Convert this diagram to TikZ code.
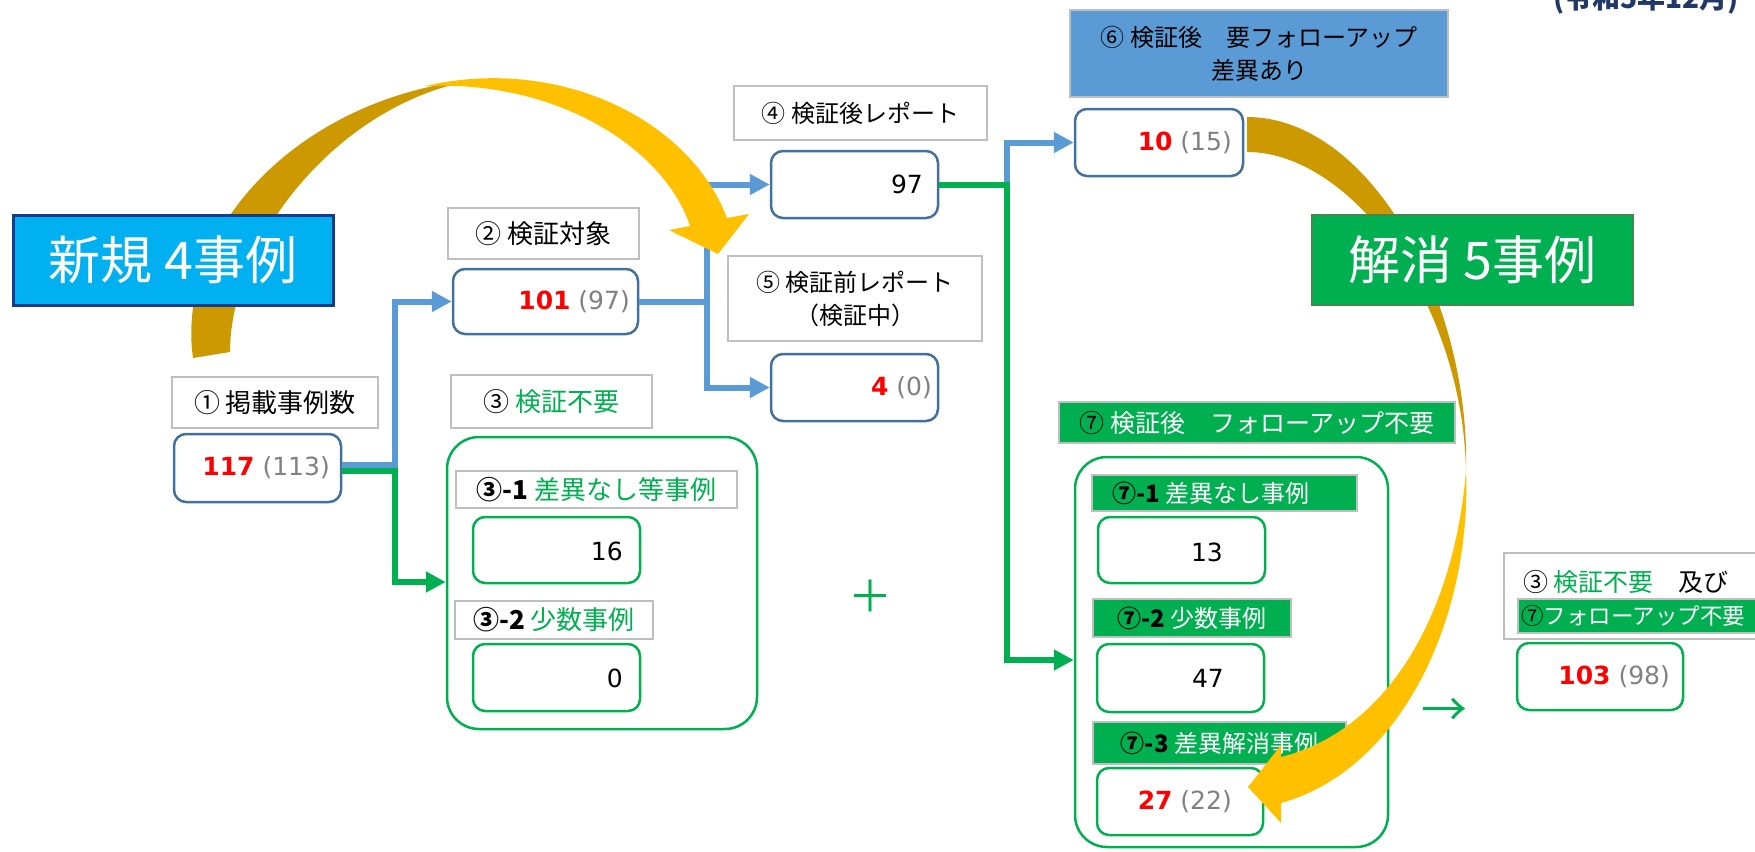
\documentclass[tikz,border=0pt]{standalone}
\usepackage{fontspec}
\setmainfont{Noto Sans CJK JP}
\newfontfamily\numfam{DejaVu Sans}
\usetikzlibrary{arrows.meta}
\definecolor{lnblue}{HTML}{5B9BD5}
\definecolor{lngreen}{HTML}{00B050}
\definecolor{bxblue}{HTML}{41719C}
\definecolor{bxgray}{HTML}{BFBFBF}
\definecolor{numgray}{HTML}{808080}
\definecolor{numred}{HTML}{FF0000}
\definecolor{newcyan}{HTML}{00B0F0}
\definecolor{newnavy}{HTML}{143C8C}
\definecolor{gold}{HTML}{FFC000}
\definecolor{darkgold}{HTML}{CC9900}
\definecolor{solvedge}{HTML}{41894F}
\definecolor{titlenavy}{HTML}{203864}
\definecolor{hdrblue}{HTML}{5B9BD5}
\newcommand\lblfont{\fontsize{24}{33}\selectfont}
\newcommand\lblbigfont{\fontsize{26}{33}\selectfont}
\newcommand\valfont{\numfam\fontsize{25}{30}\selectfont}
\newcommand\bigfont{\fontsize{52}{60}\selectfont}
\newcommand\rnum[2]{{\bfseries\color{numred}#1} {\color{numgray}(#2)}}
\begin{document}
\begin{tikzpicture}[x=1pt,y=-1pt,
 lbl/.style={draw=bxgray,line width=2pt,fill=white,inner sep=0pt,align=center,font=\lblfont},
 lblb/.style={lbl,font=\lblbigfont},
 glbl/.style={lbl,fill=lngreen,text=white},
 val/.style={draw=bxblue,line width=2.5pt,fill=white,rounded corners=12pt,inner sep=0pt},
 gval/.style={val,draw=lngreen},
 cont/.style={draw=lngreen,line width=2.5pt,fill=white,rounded corners=32pt,inner sep=0pt},
 vtxt/.style={anchor=east,inner sep=0pt,font=\valfont},
 bigbox/.style={line width=3pt,inner sep=0pt,text=white,font=\bigfont},
 bline/.style={draw=lnblue,line width=6pt},
 gline/.style={draw=lngreen,line width=6pt},
 headtip/.style={-{Triangle[length=20pt,width=20pt]}},
]
\useasboundingbox (0,0) rectangle (1755,851);
\clip (0,0) rectangle (1755,851);
\fill[white] (0,0) rectangle (1755,851);

% partially visible title (cut by the top edge)
\node[anchor=base west,inner sep=0pt,font=\fontsize{28}{34}\selectfont\bfseries,text=titlenavy] (ttl) at (1553,9) {(令和5年12月)};

% dark (back) parts of the curved arrows
\fill[darkgold] (193,358) .. controls (175,230) and (300,95) .. (480,79)
  .. controls (340,100) and (230,240) .. (230,352) -- cycle;
\fill[darkgold] (1247,117) .. controls (1370,117) and (1470,300) .. (1466,470)
  .. controls (1462,300) and (1350,152) .. (1247,152) -- cycle;

% left part
\node[lblb,minimum width=206pt,minimum height=51pt] (l1) at (275,402.5) {① 掲載事例数};
\node[val,minimum width=167pt,minimum height=68pt] (v1) at (257.5,468) {};
\node[vtxt] (t1) at (330,468) {\rnum{117}{113}};

\node[lblb,minimum width=191pt,minimum height=51pt] (l2) at (543.5,233.5) {② 検証対象};
\node[val,minimum width=185pt,minimum height=65pt] (v2) at (545.5,301.5) {};
\node[vtxt] (t2) at (630,301.5) {\rnum{101}{97}};

\node[lblb,minimum width=201pt,minimum height=53pt] (l3) at (551.5,401.5) {③ {\color{lngreen}検証不要}};
\node[cont,minimum width=310pt,minimum height=292pt] (c3) at (602,583) {};
\node[lblb,minimum width=281pt,minimum height=37pt] (l31) at (596.5,489.5) {{\bfseries ③-1} {\color{lngreen}差異なし等事例}};
\node[gval,minimum width=167pt,minimum height=66pt] (v31) at (556.5,550) {};
\node[vtxt] (t31) at (623,551) {16};
\node[lblb,minimum width=198pt,minimum height=38pt] (l32) at (554,620) {{\bfseries ③-2} {\color{lngreen}少数事例}};
\node[gval,minimum width=167pt,minimum height=67pt] (v32) at (556.5,677.5) {};
\node[vtxt] (t32) at (623,678) {0};

\node[text=lngreen,font=\fontsize{44}{50}\selectfont,inner sep=0pt] (plus) at (870,596) {＋};

% middle part
\node[lbl,minimum width=253pt,minimum height=54pt] (l4) at (860.5,113) {④ 検証後レポート};
\node[val,minimum width=167pt,minimum height=67pt] (v4) at (854.5,184.5) {};
\node[vtxt] (t4) at (923,184.5) {97};
\node[lbl,minimum width=254pt,minimum height=85pt] (l5) at (855,298.5) {⑤ 検証前レポート\\（検証中）};
\node[val,minimum width=167pt,minimum height=67pt] (v5) at (854.5,387.5) {};
\node[vtxt] (t5) at (932,388) {\rnum{4}{0}};

% right part
\node[lbl,fill=hdrblue,minimum width=378pt,minimum height=87pt] (l6) at (1259,53.5) {⑥ 検証後　要フォローアップ\\差異あり};
\node[val,minimum width=168pt,minimum height=67pt] (v6) at (1159,142.5) {};
\node[vtxt] (t6) at (1232,143) {\rnum{10}{15}};

\node[glbl,font=\fontsize{25}{30}\selectfont,minimum width=396pt,minimum height=41pt] (l7) at (1257,422.5) {{\color{black}⑦} 検証後　フォローアップ不要};
\node[cont,minimum width=313pt,minimum height=390pt] (c7) at (1231.5,652) {};
\node[glbl,minimum width=265pt,minimum height=36pt] (l71) at (1224.5,493) {};
\node[inner sep=0pt,font=\lblfont,text=white] (l71t) at (1211,493) {{\color{black}\bfseries ⑦-1} 差異なし事例};
\node[gval,minimum width=167pt,minimum height=66pt] (v71) at (1181.5,550) {};
\node[vtxt] (t71) at (1223,552) {13};
\node[glbl,minimum width=198pt,minimum height=38pt] (l72) at (1192,618) {{\color{black}\bfseries ⑦-2} 少数事例};
\node[gval,minimum width=167pt,minimum height=68pt] (v72) at (1180.5,678) {};
\node[vtxt] (t72) at (1224,678) {47};
\node[glbl,minimum width=253pt,minimum height=42pt] (l73) at (1219.5,743) {{\color{black}\bfseries ⑦-3} 差異解消事例};
\node[gval,minimum width=166pt,minimum height=67pt] (v73) at (1180,801.5) {};
\node[vtxt] (t73) at (1232,802) {\rnum{27}{22}};

\node[text=lngreen,font=\fontsize{46}{50}\selectfont,inner sep=0pt] (arr) at (1444,712) {→};

\node[lbl,minimum width=296pt,minimum height=86pt] (l8) at (1652,596) {};
\node[lbl,fill=lngreen,minimum width=282pt,minimum height=34pt] (l8b) at (1659,616) {};
\node[anchor=west,inner sep=0pt,font=\fontsize{25}{30}\selectfont] (l8t1) at (1523,582) {③ {\color{lngreen}検証不要}　及び};
\node[anchor=west,inner sep=0pt,font=\fontsize{22.5}{28}\selectfont] (l8t2) at (1521,616) {⑦{\color{white}フォローアップ不要}};
\node[gval,minimum width=166pt,minimum height=67pt] (v8) at (1600,676.5) {};
\node[vtxt] (t8) at (1670,677) {\rnum{103}{98}};

% connectors
\coordinate (j1b) at (395,465);
\coordinate (j1g) at (395,471);
\coordinate (g3) at (0,582);
\draw[gline,headtip] (v1.east |- j1g) -- (j1g) |- (c3.west |- g3);
\draw[bline,headtip] (v1.east |- j1b) -- (j1b) |- (v2.west);

\coordinate (j2) at (707,301.5);
\draw[bline] (v2.east) -- (j2);
\draw[bline,headtip] (j2) |- (v4.west);
\draw[bline,headtip] (j2) |- (v5.west);

\coordinate (j3) at (1007,184.5);
\coordinate (g7) at (0,660);
\draw[bline,headtip] (j3) |- (v6.west);
\draw[gline,headtip] (v4.east) -- (j3) |- (c7.west |- g7);

% label boxes over the dark arrow parts
\node[bigbox,draw=newnavy,fill=newcyan,minimum width=320pt,minimum height=90pt] (nw) at (173,260) {新規 4事例};
\node[bigbox,draw=solvedge,line width=2pt,fill=lngreen,minimum width=321pt,minimum height=90pt] (sv) at (1472.5,260) {解消 5事例};

% bright (front) parts of the curved arrows
\fill[gold] (425,86) .. controls (560,55) and (690,120) .. (727,218) -- (749,214) -- (718,254) -- (669,230) -- (690,226)
  .. controls (665,150) and (560,80) .. (425,86) -- cycle;
\fill[gold] (1466,470) .. controls (1472,620) and (1400,770) .. (1281,803) -- (1281,823) -- (1248,787) -- (1281,745) -- (1281,757)
  .. controls (1390,730) and (1455,610) .. (1466,470) -- cycle;
\end{tikzpicture}
\end{document}
